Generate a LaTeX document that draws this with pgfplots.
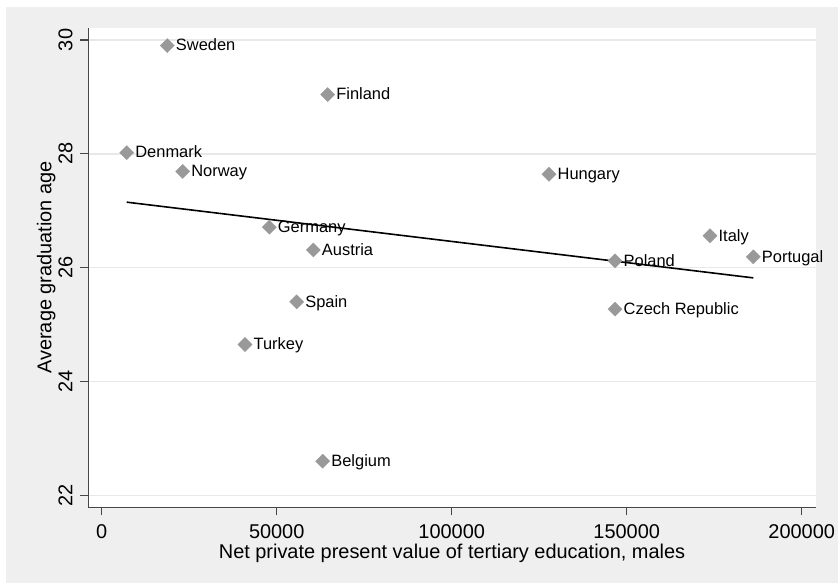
\documentclass[border=0pt]{standalone}
\usepackage{pgfplots}
\pgfplotsset{compat=1.18}
\usepackage{pgfplotstable}
\usepackage{fontspec}
\setmainfont{Liberation Sans}
\definecolor{bg}{RGB}{239,239,239}
\definecolor{gridc}{RGB}{232,232,232}
\definecolor{mk}{RGB}{153,153,153}
\definecolor{axc}{RGB}{70,70,70}
\pgfplotstableread[col sep=comma]{
x,y,name
18743,29.90,Sweden
64571,29.04,Finland
7143,28.02,Denmark
23143,27.69,Norway
127800,27.64,Hungary
47886,26.71,Germany
60457,26.31,Austria
173800,26.56,Italy
146657,26.12,Poland
186171,26.19,Portugal
146657,25.27,Czech Republic
55714,25.40,Spain
40943,24.65,Turkey
63143,22.60,Belgium
}\pts
\begin{document}
\begin{tikzpicture}[x=1bp,y=1bp]
\path[use as bounding box] (0,0) rectangle (838,584);
\fill[bg] (6,1) rectangle (838,577);
\begin{axis}[
  at={(88.3bp,76.7bp)}, anchor=south west,
  scale only axis, width=727.4bp, height=479.6bp,
  xmin=-3829, xmax=204000, ymin=21.79, ymax=30.215,
  axis lines*=left,
  axis line style={axc, line width=1.2bp},
  axis background/.style={fill=white},
  scaled x ticks=false, scaled y ticks=false,
  xtick={0,50000,100000,150000,200000},
  xticklabels={0,50000,100000,150000,200000},
  ytick={22,24,26,28,30},
  yticklabels={22,24,26,28,30},
  tick align=outside, major tick length=8bp,
  tick style={axc, line width=1.2bp},
  ymajorgrids, grid style={gridc, line width=1.5bp},
  tick label style={font=\fontsize{20}{22}\selectfont, inner sep=0pt},
  xticklabel style={anchor=base, yshift=-23bp},
  yticklabel style={xshift=-8bp, rotate=90, anchor=base},
  every axis x label/.style={at={(axis description cs:0.5,0)}, anchor=base, yshift=-51bp, inner sep=0pt, font=\fontsize{20}{22}\selectfont},
  every axis y label/.style={at={(axis description cs:0,0.5)}, xshift=-37bp, rotate=90, anchor=base, inner sep=0pt, font=\fontsize{20}{22}\selectfont},
  xlabel={Net private present value of tertiary education, males},
  ylabel={Average graduation age},
  clip=false,
]
\addplot[only marks, mark=square*, mark size=5bp, mark options={rotate=45, fill=mk, draw=mk, line width=0.3bp},
  nodes near coords={\pgfplotspointmeta}, point meta=explicit symbolic,
  every node near coord/.append style={anchor=base west, inner sep=0pt, xshift=8.5bp, yshift=-5.3bp, text=black, font=\fontsize{16.5}{18}\selectfont}]
  table[x=x, y=y, meta=name] {\pts};
\addplot[black, line width=1.6bp] coordinates {(7143,27.15) (186171,25.82)};
\end{axis}
\end{tikzpicture}
\end{document}
